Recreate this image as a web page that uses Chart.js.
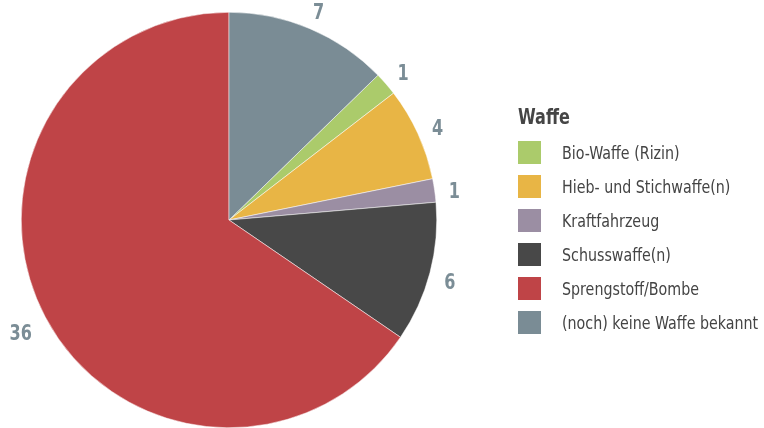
<!DOCTYPE html>
<html>
<head>
<meta charset="utf-8">
<script src="https://cdn.jsdelivr.net/npm/chart.js@4"></script>
<style>
  html, body { margin: 0; padding: 0; background: #fff; }
  #wrap { position: relative; width: 764px; height: 428px; }
  #legend { position: absolute; left: 518px; top: 104px; font-family: "Liberation Sans Narrow", "DejaVu Sans Condensed", "Roboto", sans-serif; font-stretch: condensed; color: #444; white-space: nowrap; }
  #legend .title { font-weight: bold; font-size: 21px; line-height: 26px; margin-bottom: 5px; color: #454545; transform: scaleX(0.85); transform-origin: left center; }
  #legend .item { display: flex; align-items: center; height: 34px; font-size: 18px; }
  #legend .box { width: 23px; height: 23px; margin-right: 21px; flex: none; }
  #legend .txt { display: inline-block; transform: scaleX(0.88); transform-origin: left center; }
</style>
</head>
<body>
<div id="wrap">
  <canvas id="c" width="764" height="428"></canvas>
  <div id="legend"></div>
</div>
<script>
const categories = ["Bio-Waffe (Rizin)", "Hieb- und Stichwaffe(n)", "Kraftfahrzeug", "Schusswaffe(n)", "Sprengstoff/Bombe", "(noch) keine Waffe bekannt"];
const counts = [1, 4, 1, 6, 36, 7];
const colors = ["#abcb6b", "#e8b545", "#9b8ea3", "#484848", "#bf4447", "#7a8c95"];
const legendTitle = "Waffe";

const total = counts.reduce((a, b) => a + b, 0);
// start so that the last slice ends at 12 o'clock
const rotation = counts[counts.length - 1] / total * 360;

const labelPlugin = {
  id: 'outerLabels',
  afterDatasetsDraw(chart) {
    const ctx = chart.ctx;
    const meta = chart.getDatasetMeta(0);
    ctx.save();
    ctx.font = 'bold 21px "Liberation Sans Narrow", "DejaVu Sans Condensed", Roboto, sans-serif';
    ctx.fillStyle = '#7b8d96';
    ctx.textAlign = 'center';
    ctx.textBaseline = 'middle';
    const sx = 0.85;
    meta.data.forEach((arc, i) => {
      const p = arc.getProps(['x', 'y', 'startAngle', 'endAngle', 'outerRadius'], true);
      const mid = (p.startAngle + p.endAngle) / 2;
      const txt = String(chart.data.datasets[0].data[i]);
      const w = ctx.measureText(txt).width * sx;
      const c = Math.cos(mid), s = Math.sin(mid);
      const proj = w / 2 * Math.abs(c) + 7 * Math.abs(s);
      const r = p.outerRadius + 12 + proj * 1.2;
      ctx.save();
      ctx.translate(p.x + c * r, p.y + s * r + 5);
      ctx.scale(sx, 1);
      ctx.fillText(txt, 0, 0);
      ctx.restore();
    });
    ctx.restore();
  }
};

new Chart(document.getElementById('c'), {
  type: 'pie',
  data: {
    labels: categories,
    datasets: [{
      data: counts,
      backgroundColor: colors,
      borderColor: '#ffffff',
      borderWidth: 0.5,
      hoverOffset: 0
    }]
  },
  options: {
    responsive: false,
    animation: false,
    rotation: rotation,
    layout: { padding: { left: 21, right: 327, top: 12, bottom: 0 } },
    plugins: {
      legend: { display: false },
      tooltip: { enabled: false }
    }
  },
  plugins: [labelPlugin]
});

const lg = document.getElementById('legend');
const t = document.createElement('div');
t.className = 'title';
t.textContent = legendTitle;
lg.appendChild(t);
categories.forEach((c, i) => {
  const it = document.createElement('div');
  it.className = 'item';
  const b = document.createElement('span');
  b.className = 'box';
  b.style.background = colors[i];
  const s = document.createElement('span');
  s.className = 'txt';
  s.textContent = c;
  it.appendChild(b);
  it.appendChild(s);
  lg.appendChild(it);
});
</script>
</body>
</html>
